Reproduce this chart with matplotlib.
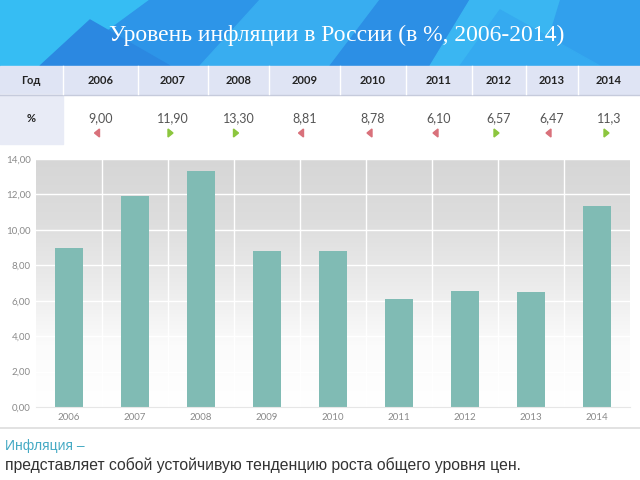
import numpy as np
import matplotlib.pyplot as plt
from matplotlib.patches import Rectangle, Polygon
from matplotlib.colors import LinearSegmentedColormap

years = ["2006", "2007", "2008", "2009", "2010", "2011", "2012", "2013", "2014"]
inflation = [9.00, 11.90, 13.30, 8.81, 8.78, 6.10, 6.57, 6.47, 11.35]
table_labels = ["9,00", "11,90", "13,30", "8,81", "8,78", "6,10", "6,57", "6,47", "11,3"]
trend = ["down", "up", "up", "down", "down", "down", "up", "down", "up"]
y_ticks = [0, 2, 4, 6, 8, 10, 12, 14]

title = "Уровень инфляции в России (в %, 2006-2014)"
term = "Инфляция –"
definition = "представляет собой устойчивую тенденцию роста общего уровня цен."

W, H = 640, 480
fig = plt.figure(figsize=(6.4, 4.8), dpi=100)

# slide layer in pixel coordinates
bg = fig.add_axes([0, 0, 1, 1])
bg.set_xlim(0, W)
bg.set_ylim(H, 0)
bg.axis("off")

# title banner
bg.add_patch(Rectangle((0, 0), W, 66, color="#30a2ee", zorder=1))
shapes = [
    ([(0, 0), (150, 0), (60, 66), (0, 66)], "#36bdf3"),
    ([(150, 0), (260, 0), (200, 66), (60, 66)], "#2d95e8"),
    ([(260, 0), (380, 0), (330, 66), (200, 66)], "#38adf0"),
    ([(380, 0), (470, 0), (430, 66), (330, 66)], "#2c8fe5"),
    ([(470, 0), (560, 0), (540, 66), (430, 66)], "#3ab6f2"),
    ([(560, 0), (640, 0), (640, 66), (540, 66)], "#31a0ed"),
    ([(90, 20), (170, 66), (40, 66)], "#2b88e1"),
    ([(500, 10), (600, 66), (460, 66)], "#35aaf0"),
]
for pts, c in shapes:
    bg.add_patch(Polygon(pts, closed=True, color=c, zorder=1))
bg.text(337, 35, title, color="white", fontsize=17, family="Liberation Serif",
        ha="center", va="center", zorder=3)

# table
edges = [0, 63, 138, 208, 269, 340, 406, 472, 526, 578, 640]
bg.add_patch(Rectangle((0, 66), W, 28, color="#dfe4f4", zorder=1))
bg.add_patch(Rectangle((0, 94), 63, 50, color="#e8ebf6", zorder=1))
bg.plot([0, W], [94.5, 94.5], color="#c6cbdc", lw=1, zorder=2)
for e in edges[1:-1]:
    bg.plot([e, e], [66, 94], color="white", lw=1, zorder=2)
hfont = dict(family="Lato", fontsize=8, fontweight="bold", color="#222222",
             ha="center", va="center", zorder=3)
bg.text(31, 80, "Год", **hfont)
bg.text(31, 118, "%", **hfont)
for i, yr in enumerate(years):
    cx = (edges[i + 1] + edges[i + 2]) / 2
    bg.text(cx, 80, yr, **hfont)
    bg.text(cx, 118, table_labels[i], family="Lato", fontsize=9,
            color="#555555", ha="center", va="center", zorder=3)
    ax_ = cx - 3
    if trend[i] == "up":
        pts = [(ax_ - 2, 129), (ax_ - 2, 137), (ax_ + 3, 133)]
        col = "#8cc63e"
    else:
        pts = [(ax_ + 2, 129), (ax_ + 2, 137), (ax_ - 3, 133)]
        col = "#d9717b"
    bg.add_patch(Polygon(pts, closed=True, color=col, zorder=3))

# separator under chart and definition text
bg.plot([0, W], [428, 428], color="#dddddd", lw=1.2, zorder=2)
bg.text(5, 446, term, color="#45aac4", fontsize=10, family="Liberation Sans",
        ha="left", va="center", zorder=3)
bg.text(5, 465, definition, color="#333333", fontsize=11.3, family="Liberation Sans",
        ha="left", va="center", zorder=3)

# chart
ax = fig.add_axes([36 / W, (H - 407) / H, 594 / W, 248 / H])
x = np.arange(len(years))
ax.set_xlim(-0.5, len(years) - 0.5)
ax.set_ylim(0, 14)

grad = np.linspace(0, 1, 256).reshape(-1, 1)
cmap = LinearSegmentedColormap.from_list("g", ["#ffffff", "#fbfbfb", "#ebebeb", "#dddddd", "#d6d6d6"])
ax.imshow(grad, extent=(-0.5, len(years) - 0.5, 0, 14), origin="lower",
          aspect="auto", cmap=cmap, zorder=0)

for b in np.arange(0.5, len(years) - 0.5, 1):
    ax.axvline(b, color="white", lw=1, zorder=1)
for t in y_ticks[1:]:
    ax.axhline(t, color="white", lw=1, zorder=1)

ax.bar(x, inflation, width=0.41, color="#80bbb4", zorder=2)

ax.set_xticks(x)
ax.set_xticklabels(years)
ax.set_yticks(y_ticks)
ax.set_yticklabels([f"{t:.2f}".replace(".", ",") for t in y_ticks])
ax.tick_params(length=0, labelsize=7, labelcolor="#8a8a8a", pad=4)
for lab in ax.get_xticklabels() + ax.get_yticklabels():
    lab.set_family("Lato")
for s in ["top", "right", "left"]:
    ax.spines[s].set_visible(False)
ax.spines["bottom"].set_color("#e6e6e6")

fig.savefig("out.png", dpi=100)
